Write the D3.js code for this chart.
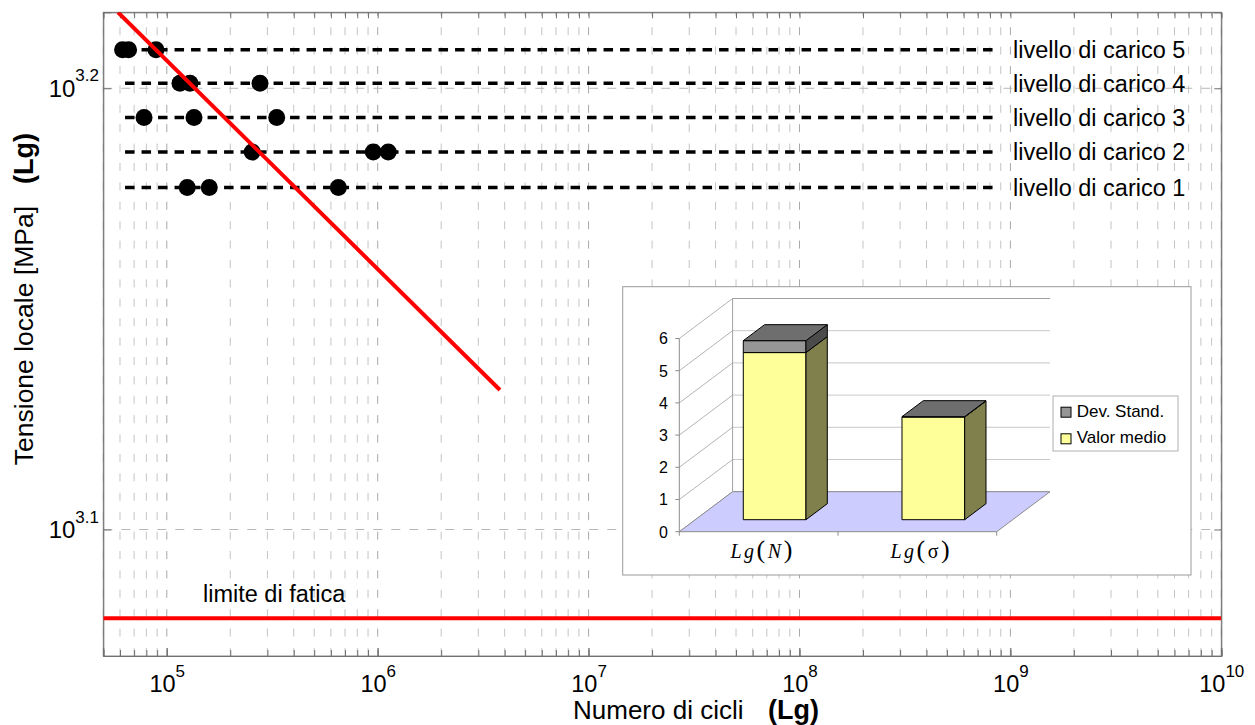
<!DOCTYPE html>
<html>
<head>
<meta charset="utf-8">
<script src="https://cdn.jsdelivr.net/npm/d3@7"></script>
<style>
  body { margin: 0; background: #fff; }
  svg { display: block; font-family: "Liberation Sans", Arial, Helvetica, sans-serif; }
</style>
</head>
<body>
<script>
// main chart data
var xDomain = [5e4, 1e10];
var yDomain = [1178.5, 1649];
var xTickValues = [1e5, 1e6, 1e7, 1e8, 1e9, 1e10];
var xTickExponents = ['5', '6', '7', '8', '9', '10'];
var yTickValues = [Math.pow(10, 3.1), Math.pow(10, 3.2)];
var yTickExponents = ['3.1', '3.2'];

var levelNames = ['livello di carico 1', 'livello di carico 2', 'livello di carico 3', 'livello di carico 4', 'livello di carico 5'];
var levelStress = [1505, 1533, 1561, 1589, 1617];
var levelCycles = [
  [125000, 159000, 651000],
  [254000, 953000, 1122000],
  [78000, 134600, 332000],
  [115500, 128800, 276700],
  [61700, 65900, 88900]
];
var levelLineStart = 63400;
var levelLineEnd = 8.6e8;

var snCycles = [58700, 3.8e6];
var snStress = [1649, 1354];
var fatigueLimit = 1202;

// inset bar chart data
var insetCategories = ['Lg(N)', 'Lg(\u03c3)'];
var insetMean = [5.19, 3.19];
var insetStd = [0.37, 0.01];
var insetTicks = [0, 1, 2, 3, 4, 5, 6];
var legendNames = ['Dev. Stand.', 'Valor medio'];

var width = 1255, height = 725;
var plot = { left: 103.3, top: 12.3, right: 1221.3, bottom: 656 };
var sansFont = '"Liberation Sans", Arial, Helvetica, sans-serif';

var svg = d3.select('body').append('svg')
  .attr('width', width)
  .attr('height', height);

var x = d3.scaleLog().domain(xDomain).range([plot.left, plot.right]);
var y = d3.scaleLog().domain(yDomain).range([plot.bottom, plot.top]);

svg.append('defs').append('clipPath').attr('id', 'clip')
  .append('rect')
  .attr('x', plot.left).attr('y', plot.top)
  .attr('width', plot.right - plot.left).attr('height', plot.bottom - plot.top);

// grid
var grid = svg.append('g');
grid.selectAll('line.vx').data(x.ticks()).enter().append('line')
  .attr('x1', function(d) { return x(d); })
  .attr('x2', function(d) { return x(d); })
  .attr('y1', plot.bottom).attr('y2', plot.top)
  .style('stroke', function(d) { return xTickValues.indexOf(d) >= 0 ? '#a8a8a8' : '#c4c4c4'; })
  .style('stroke-width', 1)
  .style('stroke-dasharray', '8,11.4');
grid.selectAll('line.hy').data(yTickValues).enter().append('line')
  .attr('x1', plot.left).attr('x2', plot.right)
  .attr('y1', function(d) { return y(d); })
  .attr('y2', function(d) { return y(d); })
  .style('stroke', '#b8b8b8')
  .style('stroke-width', 1)
  .style('stroke-dasharray', '9,9');

// box
svg.append('rect')
  .attr('x', plot.left).attr('y', plot.top)
  .attr('width', plot.right - plot.left).attr('height', plot.bottom - plot.top)
  .style('fill', 'none').style('stroke', '#8a8a8a').style('stroke-width', 1);

// minor ticks on all sides
var noLabel = function() { return ''; };
svg.append('g').attr('transform', 'translate(0,' + plot.bottom + ')')
  .call(d3.axisBottom(x).tickValues(x.ticks()).tickSize(-6).tickFormat(noLabel));
svg.append('g').attr('transform', 'translate(0,' + plot.top + ')')
  .call(d3.axisTop(x).tickValues(x.ticks()).tickSize(-6).tickFormat(noLabel));
svg.append('g').attr('transform', 'translate(' + plot.right + ',0)')
  .call(d3.axisRight(y).tickValues(yTickValues).tickSize(-7).tickFormat(noLabel));

// x axis with labels
var xAxisG = svg.append('g').attr('transform', 'translate(0,' + plot.bottom + ')')
  .call(d3.axisBottom(x).tickValues(xTickValues).tickSize(-8));
xAxisG.selectAll('text').each(function(d, i) {
  var t = d3.select(this).text(null)
    .attr('y', 35.5).attr('dy', null)
    .attr('font-size', 23.5).style('font-size', '23.5px').style('fill', '#000')
    .style('font-family', sansFont);
  t.append('tspan').text('10');
  t.append('tspan').attr('dy', -15).style('font-size', '17px').text(xTickExponents[i]);
});

var yAxisG = svg.append('g').attr('transform', 'translate(' + plot.left + ',0)')
  .call(d3.axisLeft(y).tickValues(yTickValues).tickSize(-8));
yAxisG.selectAll('text').each(function(d, i) {
  var t = d3.select(this).text(null)
    .attr('x', -4.3).attr('y', 8.4).attr('dy', null)
    .attr('font-size', 24).style('font-size', '24px').style('fill', '#000')
    .style('font-family', sansFont);
  t.append('tspan').text('10');
  t.append('tspan').attr('dy', -15.7).style('font-size', '17px').text(yTickExponents[i]);
});
svg.selectAll('.domain').style('stroke', '#707070');
svg.selectAll('.tick line').style('stroke', '#707070');

// plotted content
var content = svg.append('g').attr('clip-path', 'url(#clip)');

content.selectAll('line.level').data(levelStress).enter().append('line')
  .attr('x1', x(levelLineStart)).attr('x2', x(levelLineEnd))
  .attr('y1', function(d) { return y(d); })
  .attr('y2', function(d) { return y(d); })
  .style('stroke', '#000')
  .style('stroke-width', 3.5)
  .style('stroke-dasharray', '9.5,7');

var points = [];
levelCycles.forEach(function(row, i) {
  row.forEach(function(n) { points.push({ n: n, s: levelStress[i] }); });
});
content.selectAll('circle').data(points).enter().append('circle')
  .attr('cx', function(d) { return x(d.n); })
  .attr('cy', function(d) { return y(d.s); })
  .attr('r', 8.5)
  .style('fill', '#000');

var snLine = d3.line()
  .x(function(d) { return x(d[0]); })
  .y(function(d) { return y(d[1]); });
content.append('path')
  .datum(d3.zip(snCycles, snStress))
  .attr('d', snLine)
  .style('fill', 'none').style('stroke', '#ff0000').style('stroke-width', 4);

content.append('line')
  .attr('x1', plot.left).attr('x2', plot.right)
  .attr('y1', y(fatigueLimit)).attr('y2', y(fatigueLimit))
  .style('stroke', '#ff0000').style('stroke-width', 4);

// texts
svg.selectAll('text.level').data(levelNames).enter().append('text')
  .attr('x', 1013)
  .attr('y', function(d, i) { return y(levelStress[i]) + 8.3; })
  .style('font-size', '23.5px')
  .text(function(d) { return d; });

svg.append('text')
  .attr('x', 203).attr('y', y(fatigueLimit) - 16.6)
  .style('font-size', '23.5px')
  .text('limite di fatica');

var xTitle = svg.append('text').attr('x', 573).attr('y', 718.5).style('font-size', '26px');
xTitle.append('tspan').text('Numero di cicli');
xTitle.append('tspan').attr('x', 768).style('font-weight', 'bold').style('font-size', '27px').text('(Lg)');

var yTitle = svg.append('text')
  .attr('transform', 'translate(33,133) rotate(-90)')
  .attr('text-anchor', 'end')
  .style('font-size', '26.5px');
yTitle.append('tspan').text('Tensione locale [MPa]');
yTitle.append('tspan').attr('dx', 22).style('font-weight', 'bold').style('font-size', '27px').text('(Lg)');

// ---- inset 3D bar chart ----
var inset = svg.append('g');
inset.append('rect')
  .attr('x', 622.7).attr('y', 286.7).attr('width', 1191 - 622.7).attr('height', 575 - 286.7)
  .style('fill', '#fff').style('stroke', '#9a9a9a').style('stroke-width', 1);

var depth = [53.3, -40];
var xb = d3.scaleBand().domain(insetCategories).range([679.3, 996.7]).paddingInner(0.605).paddingOuter(0.3025);
var yv = d3.scaleLinear().domain([0, 6]).range([531.7, 338.5]);
var proj = function(px, v, d) { return [px + d * depth[0], yv(v) + d * depth[1]]; };
var pts = function(arr) { return arr.map(function(p) { return p.join(','); }).join(' '); };
var fx0 = 679.3, fx1 = 996.7;

// walls
inset.selectAll('line.lw').data(insetTicks).enter().append('line')
  .attr('x1', function(d) { return proj(fx0, d, 0)[0]; })
  .attr('y1', function(d) { return proj(fx0, d, 0)[1]; })
  .attr('x2', function(d) { return proj(fx0, d, 1)[0]; })
  .attr('y2', function(d) { return proj(fx0, d, 1)[1]; })
  .style('stroke', '#b4b4b4');
inset.selectAll('line.bw').data(insetTicks).enter().append('line')
  .attr('x1', function(d) { return proj(fx0, d, 1)[0]; })
  .attr('y1', function(d) { return proj(fx0, d, 1)[1]; })
  .attr('x2', function(d) { return proj(fx1, d, 1)[0]; })
  .attr('y2', function(d) { return proj(fx1, d, 1)[1]; })
  .style('stroke', function(d) { return d === 6 ? '#a0a0a0' : '#c8c8c8'; });
inset.append('line')
  .attr('x1', proj(fx0, 0, 1)[0]).attr('y1', proj(fx0, 0, 1)[1])
  .attr('x2', proj(fx0, 6, 1)[0]).attr('y2', proj(fx0, 6, 1)[1])
  .style('stroke', '#a0a0a0');

// floor
inset.append('polygon')
  .attr('points', pts([proj(fx0, 0, 0), proj(fx1, 0, 0), proj(fx1, 0, 1), proj(fx0, 0, 1)]))
  .style('fill', '#ccccff').style('stroke', '#8c8c8c');

// value axis
inset.append('line')
  .attr('x1', fx0).attr('x2', fx0).attr('y1', yv(0)).attr('y2', yv(6))
  .style('stroke', '#8c8c8c');
inset.selectAll('line.vt').data(insetTicks).enter().append('line')
  .attr('x1', fx0 - 4).attr('x2', fx0)
  .attr('y1', function(d) { return yv(d); })
  .attr('y2', function(d) { return yv(d); })
  .style('stroke', '#8c8c8c');
inset.selectAll('text.vl').data(insetTicks).enter().append('text')
  .attr('x', 668).attr('y', function(d) { return yv(d) + 5.8; })
  .attr('text-anchor', 'end')
  .style('font-size', '16px')
  .text(function(d) { return d; });

// category ticks
inset.selectAll('line.ct').data([fx0, xb(insetCategories[1]) - xb.step() * xb.paddingInner() / 2, fx1]).enter().append('line')
  .attr('x1', function(d) { return d; }).attr('x2', function(d) { return d; })
  .attr('y1', yv(0)).attr('y2', yv(0) + 4)
  .style('stroke', '#8c8c8c');

// bars
var dFront = 0.3, dBack = 0.7;
insetCategories.forEach(function(c, i) {
  var bx0 = xb(c), bx1 = xb(c) + xb.bandwidth();
  var segs = [
    { v0: 0, v1: insetMean[i], front: '#ffff99', side: '#80804c' },
    { v0: insetMean[i], v1: insetMean[i] + insetStd[i], front: '#969696', side: '#4b4b4b' }
  ];
  segs.forEach(function(s) {
    inset.append('polygon')
      .attr('points', pts([proj(bx0, s.v0, dFront), proj(bx1, s.v0, dFront), proj(bx1, s.v1, dFront), proj(bx0, s.v1, dFront)]))
      .style('fill', s.front).style('stroke', '#000').style('stroke-width', 1);
    inset.append('polygon')
      .attr('points', pts([proj(bx1, s.v0, dFront), proj(bx1, s.v0, dBack), proj(bx1, s.v1, dBack), proj(bx1, s.v1, dFront)]))
      .style('fill', s.side).style('stroke', '#000').style('stroke-width', 1);
  });
  var top = insetMean[i] + insetStd[i];
  inset.append('polygon')
    .attr('points', pts([proj(bx0, top, dFront), proj(bx1, top, dFront), proj(bx1, top, dBack), proj(bx0, top, dBack)]))
    .style('fill', '#6e6e6e').style('stroke', '#000').style('stroke-width', 1);

  var lab = inset.append('text')
    .attr('x', xb(c) + xb.bandwidth() / 2 + 4).attr('y', 558)
    .attr('text-anchor', 'middle')
    .style('font-family', '"Liberation Serif", "Times New Roman", serif')
    .style('font-size', '20px')
    .style('letter-spacing', '2.5px');
  c.split('').forEach(function(ch) {
    var sp = lab.append('tspan').text(ch);
    if (ch === '(' || ch === ')') sp.style('font-size', '26px');
    else if (ch !== '\u03c3') sp.style('font-style', 'italic');
  });
});

// legend
inset.append('rect')
  .attr('x', 1053).attr('y', 396).attr('width', 125).attr('height', 55)
  .style('fill', '#fff').style('stroke', '#b0b0b0');
var legendColors = ['#969696', '#ffff99'];
var legendY = [416.7, 443.3];
legendNames.forEach(function(name, i) {
  inset.append('rect')
    .attr('x', 1061).attr('y', legendY[i] - 9.5).attr('width', 10).attr('height', 10)
    .style('fill', legendColors[i]).style('stroke', '#000');
  inset.append('text')
    .attr('x', 1076.7).attr('y', legendY[i])
    .style('font-size', '17px')
    .text(name);
});
</script>
</body>
</html>
